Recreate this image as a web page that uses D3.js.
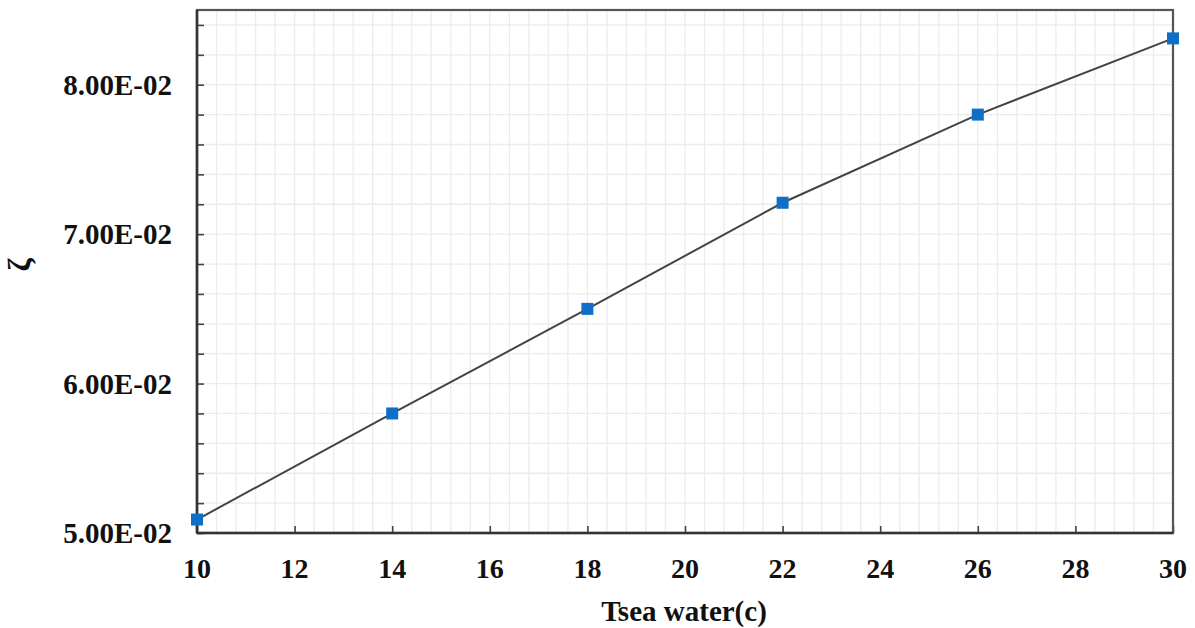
<!DOCTYPE html>
<html>
<head>
<meta charset="utf-8">
<script src="https://cdn.jsdelivr.net/npm/d3@7"></script>
<style>
  html, body { margin: 0; padding: 0; background: #fff; }
  svg { display: block; }
</style>
</head>
<body>
<div id="chart"></div>
<script>
// Sea-water temperature (°C) against ζ
const temperatures = [10, 14, 18, 22, 26, 30];
const zetaValues = [0.0509, 0.058, 0.065, 0.0721, 0.078, 0.0831];
const xTickValues = [10, 12, 14, 16, 18, 20, 22, 24, 26, 28, 30];
const yLabelValues = [0.05, 0.06, 0.07, 0.08];
const xTitle = "Tsea water(c)";
const yTitle = "ζ";

const W = 1195, H = 628;
const margin = { top: 10, right: 22, bottom: 95, left: 197 };
const iw = W - margin.left - margin.right;
const ih = H - margin.top - margin.bottom;

const svg = d3.select("#chart").append("svg")
  .attr("width", W).attr("height", H);

const g = svg.append("g").attr("transform", `translate(${margin.left},${margin.top})`);

const x = d3.scaleLinear().domain([10, 30]).range([0, iw]);
const y = d3.scaleLinear().domain([0.05, 0.085]).range([ih, 0]);

const fontFam = "'Liberation Serif', 'Times New Roman', serif";

// fine grid
const vGrid = d3.range(0, 51).map(i => 10 + i * 0.4);
const hGrid = d3.range(0, 18).map(i => 0.05 + i * 0.002);
g.append("g").selectAll("line").data(vGrid).join("line")
  .attr("x1", d => x(d)).attr("x2", d => x(d))
  .attr("y1", 0).attr("y2", ih)
  .attr("stroke", "#ececec").attr("stroke-width", 1.3);
g.append("g").selectAll("line").data(hGrid).join("line")
  .attr("x1", 0).attr("x2", iw)
  .attr("y1", d => y(d)).attr("y2", d => y(d))
  .attr("stroke", "#ececec").attr("stroke-width", 1.3);

// inward ticks along the left axis
const yAxis = d3.axisLeft(y).tickValues(hGrid).tickSizeInner(-7).tickSizeOuter(0).tickFormat("");
const ya = g.append("g").call(yAxis);
ya.select(".domain").remove();
ya.selectAll(".tick line").attr("stroke", "#444").attr("stroke-width", 1.6);

// inward ticks along the bottom axis
const xAxis = d3.axisBottom(x).tickValues(xTickValues).tickSizeInner(-7).tickSizeOuter(0).tickFormat("");
const xa = g.append("g").attr("transform", `translate(0,${ih})`).call(xAxis);
xa.select(".domain").remove();
xa.selectAll(".tick line").attr("stroke", "#444").attr("stroke-width", 1.6);

// tick labels
g.append("g").selectAll("text").data(yLabelValues).join("text")
  .attr("x", -25).attr("y", d => y(d))
  .attr("dy", "0.35em")
  .attr("text-anchor", "end")
  .attr("font-family", fontFam).attr("font-weight", "bold").attr("font-size", 29)
  .attr("fill", "#111")
  .text(d => d.toExponential(2).replace("e-", "E-0").toUpperCase());

g.append("g").selectAll("text").data(xTickValues).join("text")
  .attr("x", d => x(d)).attr("y", ih + 45)
  .attr("text-anchor", "middle")
  .attr("font-family", fontFam).attr("font-weight", "bold").attr("font-size", 28)
  .attr("fill", "#111")
  .text(d => d);

// frame
g.append("rect").attr("x", 0).attr("y", 0).attr("width", iw).attr("height", ih)
  .attr("fill", "none").attr("stroke", "#555").attr("stroke-width", 2.2);
g.append("line").attr("x1", 0).attr("x2", 0).attr("y1", 0).attr("y2", ih)
  .attr("stroke", "#333").attr("stroke-width", 2.6);
g.append("line").attr("x1", 0).attr("x2", iw).attr("y1", ih).attr("y2", ih)
  .attr("stroke", "#333").attr("stroke-width", 2.6);

// data line
const line = d3.line().x((d, i) => x(temperatures[i])).y(d => y(d));
g.append("path").datum(zetaValues)
  .attr("d", line)
  .attr("fill", "none").attr("stroke", "#444").attr("stroke-width", 2);

// markers
const ms = 12;
g.append("g").selectAll("rect").data(zetaValues).join("rect")
  .attr("x", (d, i) => x(temperatures[i]) - ms / 2)
  .attr("y", d => y(d) - ms / 2)
  .attr("width", ms).attr("height", ms)
  .attr("fill", "#0f6fc6");

// axis titles
svg.append("text")
  .attr("x", margin.left + x(20) - 1).attr("y", 621)
  .attr("text-anchor", "middle")
  .attr("font-family", fontFam).attr("font-weight", "bold").attr("font-size", 29)
  .attr("fill", "#111")
  .text(xTitle);

svg.append("text")
  .attr("transform", "translate(30,265) rotate(-90)")
  .attr("text-anchor", "middle")
  .attr("font-family", fontFam).attr("font-weight", "bold").attr("font-size", 32)
  .attr("fill", "#111")
  .text(yTitle);
</script>
</body>
</html>
